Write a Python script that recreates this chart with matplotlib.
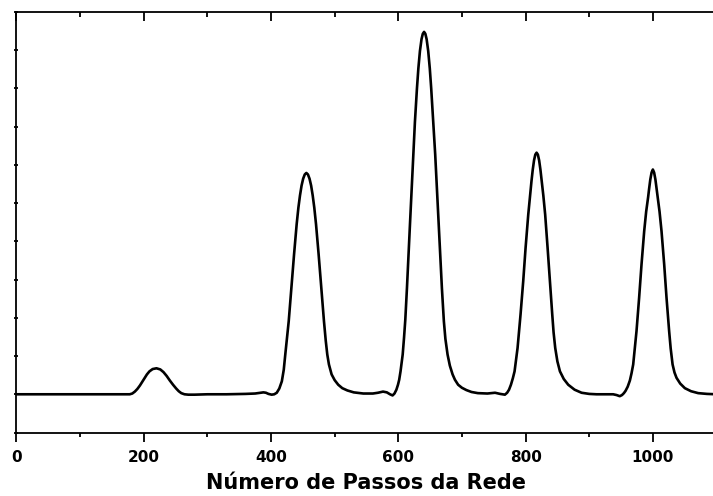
import numpy as np
import matplotlib
matplotlib.use("Agg")
import matplotlib.pyplot as plt
from matplotlib.ticker import MultipleLocator, NullFormatter

# signal (network steps vs. intensity, arbitrary units)
passos = [
    0, 100, 170, 178, 182, 186, 190, 194, 200, 205, 209, 214, 220, 226, 231, 236, 241,
    246, 251, 255, 259, 264, 270, 280,
    300, 330, 360, 375, 383, 388, 392, 396, 401, 405, 409, 413, 417, 420,
    422.4, 427.8, 432, 436.2, 440.3, 443, 445.5, 448, 450.5, 453, 455.5, 458, 460.5,
    463, 465.5, 468, 470.7, 474.8, 479, 483.2, 486, 488.4, 491, 495.2, 500,
    505.6, 512, 520, 530, 545, 560, 568, 576, 582, 587, 591, 594, 597, 599.5, 601.4,
    603.5, 606.9, 609, 611, 613.6, 615.9, 618.2, 620.8, 623.5, 626.1, 629.3, 631.5,
    634, 636.5, 638.5, 640.5, 642.5, 644.5, 647, 649.5, 651.7, 654.8, 658, 660.6, 663.2,
    665.9, 668.5, 671.6, 674, 677.4, 681, 685.3, 689, 694, 700, 707, 715, 725, 740,
    752, 760, 767.5, 771, 774, 777, 780, 782.7,
    785, 787.4, 792.1, 796.3, 800, 804.2, 807, 809.3, 811.3, 813.3, 815.3, 817.3, 819.3,
    821.3, 823.3, 825.4, 827.9, 830.8, 834.6, 838.2, 841.9, 844, 846.6, 850, 854, 860,
    867, 877, 888,
    900, 911.5, 925, 937.6, 943, 948, 951.5, 954.5, 957.1, 960.5, 963.9, 966.5, 969.1,
    971.6, 974.3, 978.4, 982.2, 986.4, 989.5, 992.6, 994, 996, 998, 1000, 1002, 1004,
    1006, 1007.4, 1010.5, 1013.6, 1017.8, 1021.5, 1025.6, 1028, 1031, 1034, 1037.2,
    1043, 1050.3, 1060, 1071.2, 1085, 1100,
]
intensidade = [
    0, 0, 0, 0.0, 0.02, 0.07, 0.14, 0.23, 0.39, 0.52, 0.60, 0.66, 0.68, 0.65, 0.58, 0.48, 0.36,
    0.25, 0.15, 0.08, 0.03, 0.0, -0.01, -0.01,
    0.0, 0.0, 0.01, 0.02, 0.04, 0.05, 0.04, 0.01, -0.01, 0.0, 0.04, 0.15, 0.34, 0.64,
    1.04, 1.91, 2.78, 3.66, 4.45, 4.88, 5.20, 5.46, 5.64, 5.75, 5.79, 5.75, 5.64,
    5.46, 5.20, 4.88, 4.45, 3.66, 2.78, 1.91, 1.40, 1.04, 0.78, 0.52, 0.37,
    0.25, 0.16, 0.10, 0.05, 0.02, 0.02, 0.04, 0.07, 0.05, 0.0, -0.03, 0.02, 0.12, 0.25, 0.38,
    0.60, 1.04, 1.48, 1.95, 2.78, 3.62, 4.40, 5.30, 6.20, 7.12, 8.00, 8.52,
    8.98, 9.29, 9.43, 9.48, 9.43, 9.29, 8.98, 8.52, 8.00, 7.15, 6.27, 5.40, 4.53,
    3.66, 2.78, 1.91, 1.45, 1.04, 0.75, 0.52, 0.38, 0.25, 0.17, 0.11, 0.06, 0.03, 0.02,
    0.04, 0.01, -0.01, 0.04, 0.12, 0.25, 0.42, 0.60,
    0.90, 1.21, 2.09, 2.96, 3.83, 4.70, 5.20, 5.58, 5.88, 6.12, 6.27, 6.32, 6.27,
    6.12, 5.88, 5.58, 5.20, 4.70, 3.83, 2.96, 2.09, 1.62, 1.21, 0.86, 0.60, 0.40,
    0.25, 0.12, 0.04,
    0.01, 0.0, 0.0, 0.0, -0.02, -0.05, -0.02, 0.03, 0.09, 0.20, 0.36, 0.55, 0.78,
    1.20, 1.65, 2.52, 3.40, 4.27, 4.78, 5.16, 5.36, 5.62, 5.80, 5.88, 5.80, 5.62,
    5.36, 5.16, 4.78, 4.27, 3.40, 2.52, 1.65, 1.20, 0.78, 0.57, 0.43,
    0.28, 0.16, 0.08, 0.03, 0.01, 0.0,
]

x_major = [0, 200, 400, 600, 800, 1000]
x_labels = ["0", "200", "400", "600", "800", "1000"]

fig = plt.figure(figsize=(7.13, 4.96), dpi=100)
ax = fig.add_axes([0.0231, 0.128, 0.9818, 0.8478])

ax.plot(passos, intensidade, color="black", lw=1.9,
        solid_joinstyle="round", solid_capstyle="round")

ax.set_xlim(0, 1100)
ax.set_ylim(-1, 10)

ax.set_xticks(x_major)
ax.set_xticklabels(x_labels, fontsize=11, fontweight="bold", family="DejaVu Sans")
ax.xaxis.set_minor_locator(MultipleLocator(100))
ax.yaxis.set_major_locator(MultipleLocator(1))
ax.yaxis.set_major_formatter(NullFormatter())

ax.tick_params(axis="x", which="major", direction="out", length=6.5, width=1.3,
               top=True, pad=6)
ax.tick_params(axis="x", which="minor", direction="out", length=3, width=1.3, top=True)
# top ticks point inward, like the reference
for tl in ax.xaxis.get_majorticklines()[1::2]:
    tl.set_marker(matplotlib.lines.TICKDOWN)
    tl.set_markersize(6.3)
for tl in ax.xaxis.get_minorticklines()[1::2]:
    tl.set_marker(matplotlib.lines.TICKDOWN)
    tl.set_markersize(3.4)
ax.tick_params(axis="y", which="major", direction="inout", length=3, width=1.3)

for side in ["left", "bottom", "top"]:
    ax.spines[side].set_linewidth(1.3)
ax.spines["right"].set_visible(False)

ax.set_xlabel("Número de Passos da Rede", fontsize=15, fontweight="bold",
              family="DejaVu Sans", labelpad=6)

fig.savefig("out.png", dpi=100)
